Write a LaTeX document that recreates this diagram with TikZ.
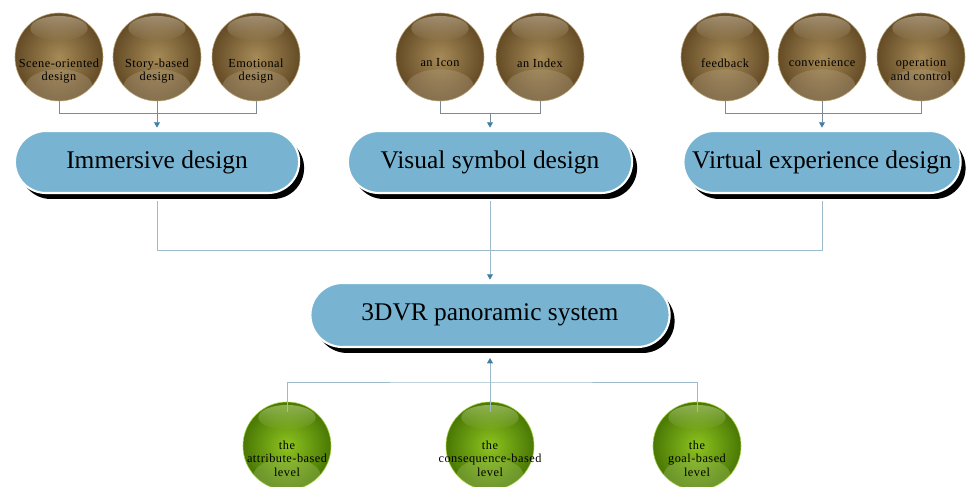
\documentclass[tikz,border=0pt]{standalone}
\usepackage{fontspec}
\setmainfont{Liberation Serif}
\newfontfamily\ballfont[LetterSpace=4]{Liberation Serif}
\usepackage{xcolor}
\usepackage{tikz}
\usetikzlibrary{shapes.misc,shadows,fadings,arrows.meta}
\definecolor{boxblue}{HTML}{78B4D2}
\definecolor{brownin}{HTML}{A68A57}
\definecolor{brownout}{HTML}{654C26}
\definecolor{brownrim}{HTML}{B9A577}
\definecolor{greenin}{HTML}{8EC41F}
\definecolor{greenout}{HTML}{4A7805}
\definecolor{greenrim}{HTML}{A3CF3E}
\definecolor{linegrey}{HTML}{7B8A94}
\definecolor{lineblue}{HTML}{9CBCCB}
\definecolor{arrowblue}{HTML}{3F7FA3}

\begin{document}
\begin{tikzpicture}[x=0.03cm,y=0.03cm,
    panel/.style={rounded rectangle, fill=boxblue, draw=white, line width=1.8pt,
        minimum width=8.76cm, minimum height=1.86cm, font=\fontsize{21.7}{24}\selectfont,
        drop shadow={shadow xshift=0.15cm, shadow yshift=-0.18cm, fill=black, opacity=1}},
    balltext/.style={inner sep=0pt, align=center,
        font=\ballfont\fontsize{10.5}{11.8}\selectfont},
    gloss/.style={path picture={
        \fill[#1, opacity=0.3, path fading=north]
            ([yshift=0.45cm]path picture bounding box.south) ellipse (1cm and 0.5cm);
        \fill[#1, opacity=0.5, path fading=south]
            ([yshift=-0.46cm]path picture bounding box.north) ellipse (0.86cm and 0.37cm);}},
    brownsphere/.style={circle, minimum size=2.64cm, inner sep=0pt, draw=brownrim,
        line width=0.5pt, inner color=brownin, outer color=brownout, gloss=white!55!brownin,
        label={[balltext, label distance=-1.29cm]below:{#1}}},
    greensphere/.style={circle, minimum size=2.64cm, inner sep=0pt, draw=greenrim,
        line width=0.5pt, inner color=greenin, outer color=greenout, gloss=white!55!greenin,
        label={[balltext, label distance=-1.50cm]below:{#1}}},
    greyline/.style={draw=linegrey, line width=0.6pt},
    blueline/.style={draw=lineblue, line width=0.6pt},
    arrowhd/.style={-{Triangle[width=5pt, length=4.5pt, color=arrowblue]}, shorten >=2pt}]

    \useasboundingbox (0,0) rectangle (971,487);

    \node[brownsphere={Scene-oriented\\design}] (so) at (59,430) {};
    \node[brownsphere={Story-based\\design}] (sb) at (157,430) {};
    \node[brownsphere={Emotional\\design}] (em) at (256,430) {};
    \node[brownsphere={an Icon}] (ic) at (440,430) {};
    \node[brownsphere={an Index}] (ix) at (540,430) {};
    \node[brownsphere={feedback}] (fb) at (725,430) {};
    \node[brownsphere={convenience}] (cv) at (822,430) {};
    \node[brownsphere={operation\\and control}] (oc) at (921,430) {};

    \node[panel] (imm) at (157,325) {Immersive design};
    \node[panel] (vis) at (490,325) {Visual symbol design};
    \node[panel, minimum width=8.55cm] (vir) at (822,325) {Virtual experience design};
    \node[panel, minimum width=11.01cm, minimum height=1.92cm] (sys) at (490,172) {3DVR panoramic system};

    \node[greensphere={the\\attribute-based\\level}] (ab) at (287,41) {};
    \node[greensphere={the\\consequence-based\\level}] (cb) at (490,41) {};
    \node[greensphere={the\\goal-based\\level}] (gb) at (697,41) {};

    \draw[greyline] (so.south) -- ++(0,-12) -| (em.south);
    \draw[greyline, arrowhd] (sb.south) -- (imm.north);
    \draw[greyline] (ic.south) -- ++(0,-12) -| (ix.south);
    \draw[greyline, arrowhd] (vis.north |- ic.south) ++(0,-12) -- (vis.north);
    \draw[greyline] (fb.south) -- ++(0,-12) -| (oc.south);
    \draw[greyline, arrowhd] (cv.south) -- (vir.north);

    \coordinate (midbus) at (490,237);
    \draw[blueline, shorten <=0.2cm] (imm.south) |- (midbus);
    \draw[blueline, shorten <=0.2cm] (vir.south) |- (midbus);
    \draw[blueline, arrowhd, shorten <=0.2cm] (vis.south) -- (sys.north);

    \coordinate (lowbus) at (490,105);
    \draw[blueline] (ab.north) ++(0,-10) |- (lowbus) -| ([yshift=-0.3cm]gb.north);
    \draw[blueline, arrowhd, shorten >=0.3cm] (cb.north) ++(0,-10) -- (sys.south);
\end{tikzpicture}
\end{document}
